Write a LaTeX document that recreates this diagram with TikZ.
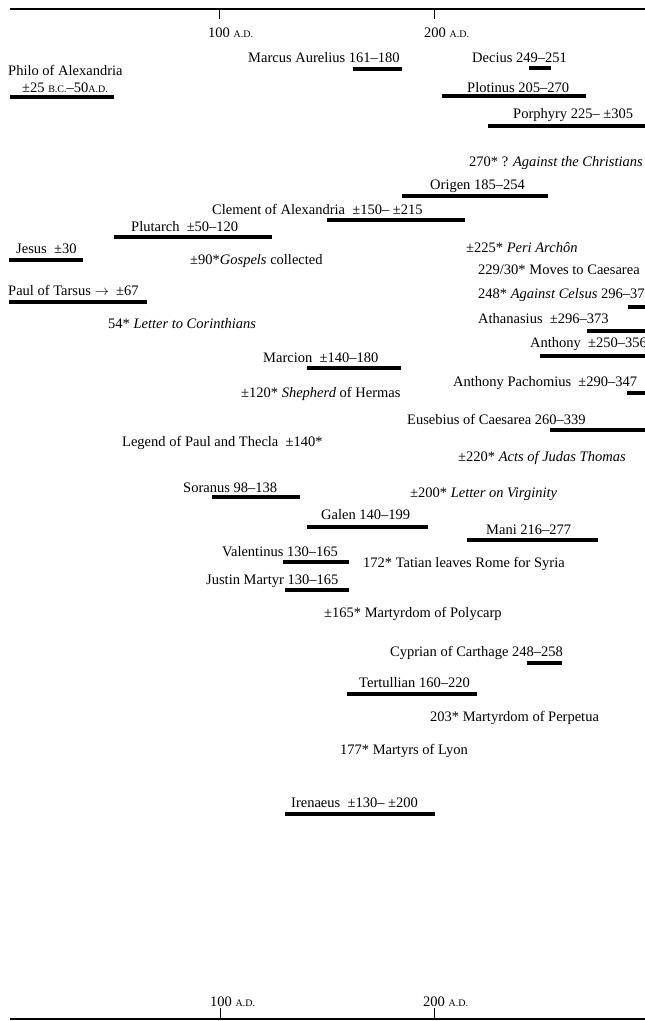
\documentclass[tikz,border=0pt]{standalone}
\usepackage{fontspec}
\setmainfont{Liberation Serif}
\newcommand{\yrAD}{{\fontsize{10}{12}\selectfont A.D.}}
\newcommand{\yrBC}{{\fontsize{10}{12}\selectfont B.C.}}

\begin{document}
\begin{tikzpicture}[
    x=1pt, y=-1pt,
    who/.style={anchor=base west, inner sep=0pt, font=\fontsize{14.5}{17}\selectfont},
    what/.style={who},
    lifebar/.style={line width=4.5pt},
    axis/.style={line width=1.1pt},
    yeartick/.style={line width=1pt},
]
    \clip (0,0) rectangle (645,1021);

    % Axes
    \draw[axis] (10,9) -- (645,9);
    \draw[yeartick] (219,9) -- (219,19);
    \draw[yeartick] (434,9) -- (434,19);
    \node[who] (top100) at (208,37) {100 \yrAD};
    \node[who] (top200) at (424,37) {200 \yrAD};

    \draw[axis] (10,1019) -- (645,1019);
    \draw[yeartick] (220,1008) -- (220,1019);
    \draw[yeartick] (434,1008) -- (434,1019);
    \node[who] (bot100) at (210,1006) {100 \yrAD};
    \node[who] (bot200) at (423,1006) {200 \yrAD};

    % Lives
    \node[who] (philo) at (8,75) {Philo of Alexandria};
    \node[who] (philodates) at (22,92) {±25 \yrBC–50\yrAD};
    \draw[lifebar] (10,97) -- (114,97);

    \node[who] (marcus) at (248,62) {Marcus Aurelius 161–180};
    \draw[lifebar] (353,69) -- (402,69);
    \node[who] (decius) at (472,62) {Decius 249–251};
    \draw[lifebar] (529,68) -- (551,68);
    \node[who] (plotinus) at (467,92) {Plotinus 205–270};
    \draw[lifebar] (442,96) -- (586,96);
    \node[who] (porphyry) at (513,118) {Porphyry 225– ±305};
    \draw[lifebar] (488,126) -- (645,126);

    \node[who] (origen) at (430,189) {Origen 185–254};
    \draw[lifebar] (402,196) -- (548,196);
    \node[who] (clement) at (212,214) {Clement of Alexandria\ \ ±150– ±215};
    \draw[lifebar] (327,220) -- (465,220);
    \node[who] (plutarch) at (131,231) {Plutarch\ \ ±50–120};
    \draw[lifebar] (114,237) -- (272,237);
    \node[who] (jesus) at (16,253) {Jesus\ \ ±30};
    \draw[lifebar] (9,260) -- (83,260);
    \node[who] (paul) at (8,295) {Paul of Tarsus $\rightarrow$\ \ ±67};
    \draw[lifebar] (9,302) -- (147,302);

    \draw[lifebar] (628,307) -- (645,307);
    \node[who] (athanasius) at (478,323) {Athanasius\ \ ±296–373};
    \draw[lifebar] (587,331) -- (645,331);
    \node[who] (anthony) at (530,347) {Anthony\ \ ±250–356};
    \draw[lifebar] (540,356) -- (645,356);
    \node[who] (marcion) at (263,362) {Marcion\ \ ±140–180};
    \draw[lifebar] (307,368) -- (401,368);
    \node[who] (pachomius) at (453,386) {Anthony Pachomius\ \ ±290–347};
    \draw[lifebar] (627,393) -- (645,393);
    \node[who] (eusebius) at (407,424) {Eusebius of Caesarea 260–339};
    \draw[lifebar] (550,430) -- (645,430);

    \node[who] (soranus) at (183,492) {Soranus 98–138};
    \draw[lifebar] (212,497) -- (300,497);
    \node[who] (galen) at (321,519) {Galen 140–199};
    \draw[lifebar] (307,527) -- (428,527);
    \node[who] (mani) at (486,534) {Mani 216–277};
    \draw[lifebar] (467,540) -- (598,540);
    \node[who] (valentinus) at (222,556) {Valentinus 130–165};
    \draw[lifebar] (283,562) -- (349,562);
    \node[who] (justin) at (206,584) {Justin Martyr 130–165};
    \draw[lifebar] (285,590) -- (349,590);
    \node[who] (cyprian) at (390,656) {Cyprian of Carthage 248–258};
    \draw[lifebar] (527,663) -- (562,663);
    \node[who] (tertullian) at (359,687) {Tertullian 160–220};
    \draw[lifebar] (347,694) -- (477,694);
    \node[who] (irenaeus) at (291,807) {Irenaeus\ \ ±130– ±200};
    \draw[lifebar] (285,814) -- (435,814);

    % Events
    \node[what] (christians) at (469,166) {270* ? \textit{Against the Christians}};
    \node[what] (periarchon) at (466,252) {±225*\ \textit{Peri Archôn}};
    \node[what] (gospels) at (190,264) {±90*\textit{Gospels} collected};
    \node[what] (caesarea) at (478,274) {229/30* Moves to Caesarea};
    \node[what] (celsus) at (478,298) {248* \textit{Against Celsus} 296–373};
    \node[what] (corinth) at (108,328) {54* \textit{Letter to Corinthians}};
    \node[what] (hermas) at (241,397) {±120* \textit{Shepherd} of Hermas};
    \node[what] (thecla) at (122,446) {Legend of Paul and Thecla\ \ ±140*};
    \node[what] (judas) at (458,461) {±220* \textit{Acts of Judas Thomas}};
    \node[what] (virginity) at (410,497) {±200* \textit{Letter on Virginity}};
    \node[what] (tatian) at (363,567) {172* Tatian leaves Rome for Syria};
    \node[what] (polycarp) at (324,617) {±165* Martyrdom of Polycarp};
    \node[what] (perpetua) at (430,721) {203* Martyrdom of Perpetua};
    \node[what] (lyon) at (340,754) {177* Martyrs of Lyon};
\end{tikzpicture}
\end{document}
